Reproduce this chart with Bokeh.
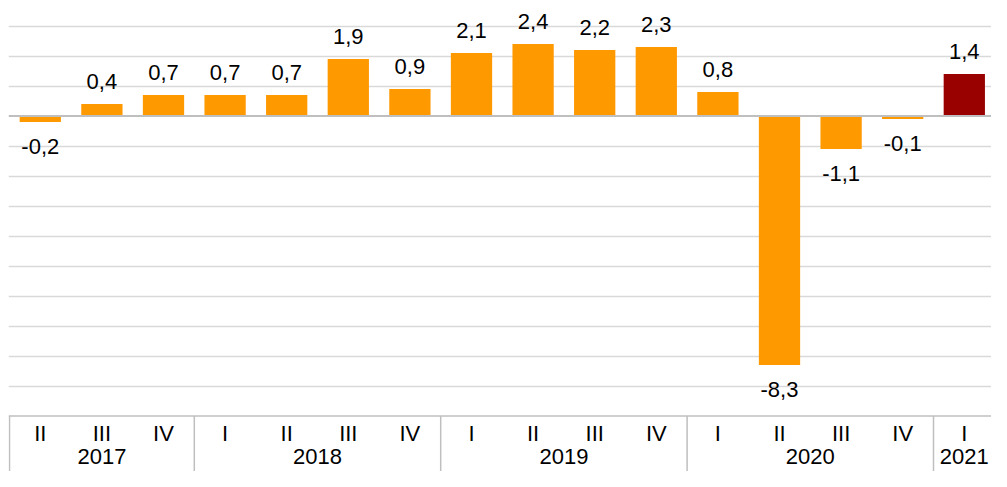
from bokeh.plotting import figure
from bokeh.models import ColumnDataSource, Range1d, Span, Grid, FixedTicker
from bokeh.core.properties import value
from bokeh.embed import file_html
from bokeh.resources import INLINE

# ---- data ----
quarters = ["II", "III", "IV", "I", "II", "III", "IV", "I", "II", "III", "IV",
            "I", "II", "III", "IV", "I"]
years = ["2017", "2018", "2019", "2020", "2021"]
year_sizes = [3, 4, 4, 4, 1]
growth = [-0.2, 0.4, 0.7, 0.7, 0.7, 1.9, 0.9, 2.1, 2.4, 2.2, 2.3,
          0.8, -8.3, -1.1, -0.1, 1.4]
grid_values = [-9, -8, -7, -6, -5, -4, -3, -2, -1, 1, 2, 3]

# ---- styles / layout ----
ORANGE = "#FF9900"
DARKRED = "#990000"
FONT = value("Liberation Sans")
FSIZE = "22px"
TABLE_TOP = -10

W, H = 991, 471
px_per_cat = 61.6
px_per_unit = 30.0
zero_px = 115.5
left_px = 9

n = len(growth)
xs = [i + 0.5 for i in range(n)]
colors = [ORANGE] * (n - 1) + [DARKRED]
labels = [f"{v:.1f}".replace(".", ",") for v in growth]
offsets = [-23 if v >= 0 else 24 for v in growth]

p = figure(width=W, height=H, output_backend="svg", toolbar_location=None,
           x_axis_type=None, y_axis_type=None,
           x_range=Range1d(-1 / px_per_cat, (W - left_px) / px_per_cat),
           y_range=Range1d(-(H - zero_px) / px_per_unit, zero_px / px_per_unit),
           min_border_left=left_px - 1, min_border_right=0,
           min_border_top=0, min_border_bottom=0)
p.outline_line_color = None
p.background_fill_color = "white"
p.border_fill_color = "white"

p.add_layout(Grid(dimension=1, ticker=FixedTicker(ticks=grid_values),
                  grid_line_color="#D9D9D9", grid_line_width=1.5))

src = ColumnDataSource(dict(x=xs, top=growth, color=colors, label=labels, off=offsets))
p.vbar(x="x", top="top", bottom=0, width=0.67, fill_color="color", line_color=None, source=src)

p.add_layout(Span(location=0, dimension="width", line_color="#BFBFBF", line_width=2))

p.text(x="x", y="top", text="label", y_offset="off", source=src,
       text_align="center", text_baseline="alphabetic",
       text_font=FONT, text_font_size=FSIZE, text_color="#000000")

# category table
p.add_layout(Span(location=TABLE_TOP, dimension="width", line_color="#BFBFBF", line_width=1.5))
bounds = [0]
for s in year_sizes:
    bounds.append(bounds[-1] + s)
p.segment(x0=bounds, x1=bounds, y0=[TABLE_TOP] * len(bounds), y1=[TABLE_TOP - 3] * len(bounds),
          line_color="#BFBFBF", line_width=1.5)

qsrc = ColumnDataSource(dict(x=xs, y=[TABLE_TOP] * n, t=quarters))
p.text(x="x", y="y", text="t", source=qsrc, y_offset=17,
       text_align="center", text_baseline="alphabetic",
       text_font=FONT, text_font_size=FSIZE, text_color="#000000")

ycent = [(bounds[i] + bounds[i + 1]) / 2 for i in range(len(years))]
ysrc = ColumnDataSource(dict(x=ycent, y=[TABLE_TOP] * len(years), t=years))
p.text(x="x", y="y", text="t", source=ysrc, y_offset=40,
       text_align="center", text_baseline="alphabetic",
       text_font=FONT, text_font_size=FSIZE, text_color="#000000")

open("out.html", "w").write(file_html(p, INLINE))
